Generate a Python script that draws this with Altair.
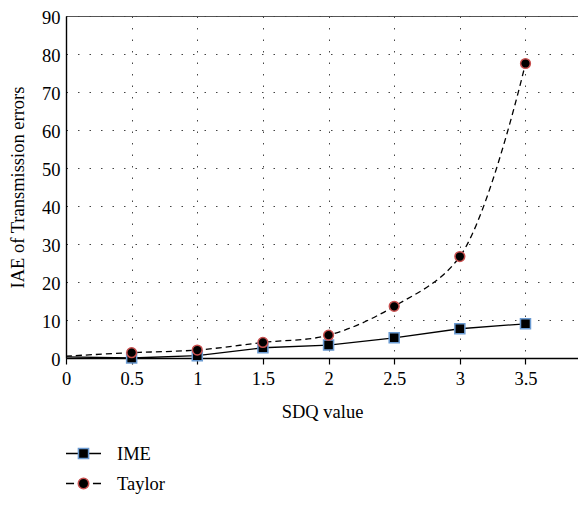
import altair as alt
import pandas as pd

# ---- data ----
sdq = [0, 0.5, 1, 1.5, 2, 2.5, 3, 3.5]
ime = [0.3, 0.0, 0.6, 2.7, 3.4, 5.3, 7.7, 9.0]
taylor = [0.5, 1.4, 2.1, 4.1, 6.0, 13.6, 26.7, 77.5]
series_names = ["IME", "Taylor"]
x_ticks = [0, 0.5, 1, 1.5, 2, 2.5, 3, 3.5]
y_ticks = [0, 10, 20, 30, 40, 50, 60, 70, 80, 90]

rows = []
for s, vals in zip(series_names, [ime, taylor]):
    for xv, yv in zip(sdq, vals):
        rows.append({"sdq": xv, "val": yv, "series": s})
df = pd.DataFrame(rows)

FONT = "'Liberation Serif', 'Times New Roman', 'DejaVu Serif', serif"
FS = 18.5

xs = alt.Scale(domain=[0, 3.9], nice=False, zero=False)
ys = alt.Scale(domain=[0, 90], nice=False)

x_axis = alt.Axis(
    values=x_ticks, format="~g", title="SDQ value",
    grid=True, gridDash=[1.5, 10], gridColor="#444", gridWidth=1,
    domainColor="black", domainWidth=1.6,
    tickColor="black", tickSize=6, tickWidth=1.2,
    labelFont=FONT, labelFontSize=FS, labelColor="black", labelPadding=5,
    labelFlush=False,
    titleFont=FONT, titleFontSize=FS, titleFontWeight="normal",
    titleColor="black", titlePadding=15,
)
y_axis = alt.Axis(
    values=y_ticks, title="IAE of Transmission errors",
    grid=True, gridDash=[1.5, 10], gridColor="#444", gridWidth=1,
    domainColor="black", domainWidth=1.4,
    ticks=False, labelPadding=6, labelOffset=1,
    labelFont=FONT, labelFontSize=FS, labelColor="black",
    labelFlush=False,
    titleFont=FONT, titleFontSize=FS, titleFontWeight="normal",
    titleColor="black", titlePadding=14,
)

base = alt.Chart(df)
X = alt.X("sdq:Q", scale=xs, axis=x_axis)
Y = alt.Y("val:Q", scale=ys, axis=y_axis)

line_ime = base.transform_filter("datum.series == 'IME'").mark_line(
    color="black", strokeWidth=1.3
).encode(x=X, y=Y)

line_taylor = base.transform_filter("datum.series == 'Taylor'").mark_line(
    color="black", strokeWidth=1.3, strokeDash=[6, 4], interpolate="catmull-rom"
).encode(x=X, y=Y)

points = base.transform_filter("datum.sdq > 0").mark_point(
    filled=True, fill="black", strokeWidth=1.5, opacity=1
).encode(
    x=X, y=Y,
    shape=alt.Shape("series:N", scale=alt.Scale(domain=series_names, range=["square", "circle"]), legend=None),
    stroke=alt.Stroke("series:N", scale=alt.Scale(domain=series_names, range=["#6b9bd2", "#c8504f"]), legend=None),
    size=alt.Size("series:N", scale=alt.Scale(domain=series_names, range=[100, 95]), legend=None),
)

# legend: line stubs (black) + markers (coloured), drawn as two aligned legends
stub_paths = ["M-1,0H-0.29M0.29,0H1", "M-1,0H-0.54M0.54,0H1"]
marker_paths = ["M-0.29,-0.29H0.29V0.29H-0.29Z",
                "M0.3,0A0.3,0.3,0,1,1,-0.3,0A0.3,0.3,0,1,1,0.3,0Z"]

leg_common = dict(
    orient="none", legendX=-1, legendY=419, title=None,
    symbolSize=1225, symbolStrokeWidth=1.5, labelOffset=15,
    labelFont=FONT, labelFontSize=FS, labelColor="black",
    rowPadding=2, padding=0,
)

leg_stubs = base.transform_filter("datum.sdq < 0").mark_point(
    filled=False, stroke="black", strokeWidth=1.5, opacity=1
).encode(
    shape=alt.Shape("series:N", scale=alt.Scale(domain=series_names, range=stub_paths),
                    legend=alt.Legend(symbolStrokeColor="black", symbolFillColor="transparent", **leg_common)),
)

leg_markers = base.transform_filter("datum.sdq < 0").mark_point(
    filled=True, fill="black", strokeWidth=1.5, opacity=1
).encode(
    shape=alt.Shape("series:N", scale=alt.Scale(domain=series_names, range=marker_paths),
                    legend=alt.Legend(symbolFillColor="black", labelOpacity=0, **leg_common)),
    stroke=alt.Stroke("series:N", scale=alt.Scale(domain=series_names, range=["#6b9bd2", "#c8504f"]),
                      legend=alt.Legend(symbolFillColor="black", labelOpacity=0, **leg_common)),
)

chart = alt.layer(line_ime, line_taylor, points, leg_stubs, leg_markers).resolve_scale(
    shape="independent", stroke="independent", size="independent"
).properties(
    width=512, height=342,
    autosize=alt.AutoSizeParams(type="none"),
    padding={"left": 58, "top": 8, "right": 0, "bottom": 140},
    background="white",
).configure_view(stroke="#555", strokeWidth=1)

chart.save("out.html", embed_options={"renderer": "svg", "actions": False})
